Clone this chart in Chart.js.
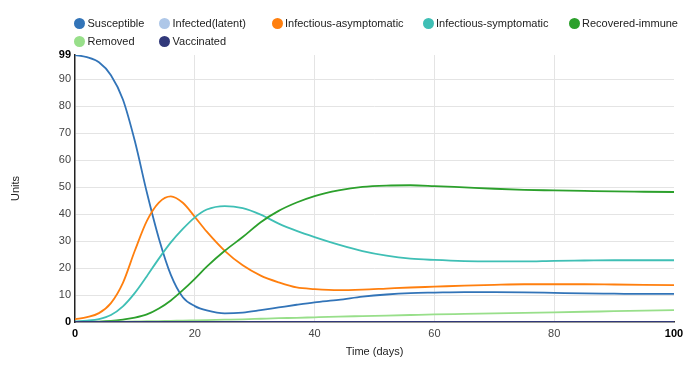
<!DOCTYPE html>
<html>
<head>
<meta charset="utf-8">
<script src="https://cdn.jsdelivr.net/npm/chart.js@4.4.1/dist/chart.umd.min.js"></script>
<style>
  body { margin: 0; background: #fff; }
  #wrap { position: relative; width: 700px; height: 372px; }
  #legend { position: absolute; left: 0; top: 0; width: 700px; height: 50px;
            font: 11px Arial, 'Liberation Sans', sans-serif; color: #222; }
  .item { position: absolute; white-space: nowrap; line-height: 14px; }
  .dot { position: absolute; left: -5.5px; top: 1.5px; width: 11px; height: 11px; border-radius: 50%; }
  .lbl { position: absolute; left: 8px; top: 0; }
</style>
</head>
<body>
<div id="wrap">
  <canvas id="chart" width="700" height="372"></canvas>
  <div id="legend"></div>
</div>
<script>
const days = [0, 2, 4, 6, 8, 10, 12, 14, 16, 18, 20, 22, 25, 28, 31, 34, 37, 40, 44, 48, 52, 56, 60, 65, 70, 75, 80, 85, 90, 95, 100];

const susceptible = [99, 98.2, 96.3, 91.5, 82.5, 67, 48, 31, 17.5, 9.2, 5.9, 4.3, 3.2, 3.5, 4.4, 5.4, 6.4, 7.3, 8.2, 9.4, 10.2, 10.7, 10.9, 11.1, 11.1, 11.0, 10.8, 10.6, 10.5, 10.4, 10.4];
const infectedLatent = [0, 0, 0, 0, 0, 0, 0, 0, 0, 0, 0, 0, 0, 0, 0, 0, 0, 0, 0, 0, 0, 0, 0, 0, 0, 0, 0, 0, 0, 0, 0];
const infectiousAsym = [1.0, 1.8, 3.3, 7.0, 14.5, 26.5, 37.5, 44.3, 46.6, 44.2, 39, 33.5, 26.4, 21, 17.2, 14.7, 12.8, 12.2, 11.8, 12.0, 12.4, 12.8, 13.1, 13.5, 13.8, 14.0, 14.0, 14.0, 13.9, 13.8, 13.7];
const infectiousSym = [0.2, 0.5, 1.1, 2.6, 5.8, 10.8, 17, 23.5, 29.5, 34.5, 38.8, 41.7, 43, 42.2, 39.8, 36.5, 33.8, 31.5, 28.7, 26.3, 24.6, 23.5, 23.0, 22.6, 22.5, 22.5, 22.7, 22.8, 22.9, 22.9, 22.9];
const recovered = [0, 0.05, 0.15, 0.4, 0.9, 1.6, 2.8, 5.0, 8.0, 11.8, 16, 20.5, 26.4, 31.5, 37, 41.2, 44.3, 46.7, 48.8, 50.1, 50.6, 50.7, 50.4, 49.9, 49.4, 49.0, 48.8, 48.6, 48.4, 48.3, 48.2];
const removed = [0, 0, 0.05, 0.1, 0.15, 0.2, 0.3, 0.35, 0.45, 0.5, 0.6, 0.7, 0.85, 1.0, 1.2, 1.4, 1.55, 1.75, 2.0, 2.2, 2.4, 2.6, 2.8, 3.0, 3.2, 3.4, 3.6, 3.8, 4.0, 4.2, 4.4];
const vaccinated = [0, 0, 0, 0, 0, 0, 0, 0, 0, 0, 0, 0, 0, 0, 0, 0, 0, 0, 0, 0, 0, 0, 0, 0, 0, 0, 0, 0, 0, 0, 0];

const seriesNames = ['Susceptible', 'Infected(latent)', 'Infectious-asymptomatic', 'Infectious-symptomatic', 'Recovered-immune', 'Removed', 'Vaccinated'];
const seriesValues = [susceptible, infectedLatent, infectiousAsym, infectiousSym, recovered, removed, vaccinated];
const seriesColors = ['#3274b8', '#aec7e8', '#ff7f0e', '#3fbfb5', '#2ca02c', '#98df8a', '#31397a'];

const yTicks = [0, 10, 20, 30, 40, 50, 60, 70, 80, 90, 99];
const xTicks = [0, 20, 40, 60, 80, 100];

const fontFamily = "Arial, 'Liberation Sans', sans-serif";

// legend dots placed like the original, two rows
const legendPos = [[79.5, 16], [164.5, 16], [277, 16], [428, 16], [574, 16], [79.5, 34], [164.5, 34]];
const legend = document.getElementById('legend');
seriesNames.forEach((name, i) => {
    const item = document.createElement('div');
    item.className = 'item';
    item.style.left = legendPos[i][0] + 'px';
    item.style.top = legendPos[i][1] + 'px';
    item.innerHTML = '<span class="dot" style="background:' + seriesColors[i] + '"></span><span class="lbl">' + name + '</span>';
    legend.appendChild(item);
});

const datasets = seriesNames.map((name, i) => ({
    label: name,
    data: days.map((d, j) => ({ x: d, y: seriesValues[i][j] })),
    borderColor: seriesColors[i],
    backgroundColor: seriesColors[i],
    borderWidth: 1.8,
    pointRadius: 0,
    cubicInterpolationMode: 'monotone',
    fill: false,
    order: seriesNames.length - i
}));

const isEnd = (v, lo, hi) => v === lo || v === hi;

new Chart(document.getElementById('chart').getContext('2d'), {
    type: 'line',
    data: { datasets: datasets },
    options: {
        responsive: false,
        animation: false,
        layout: { padding: { top: 55, right: 26, left: 0, bottom: 0 } },
        plugins: { legend: { display: false }, tooltip: { enabled: false } },
        scales: {
            x: {
                type: 'linear',
                min: 0,
                max: 100,
                afterBuildTicks: (scale) => { scale.ticks = xTicks.map(v => ({ value: v })); },
                afterFit: (scale) => { scale.height = 50; },
                grid: {
                    drawTicks: false,
                    color: (ctx) => ctx.tick && isEnd(ctx.tick.value, 0, 100) ? 'rgba(0,0,0,0)' : '#e4e4e4'
                },
                border: { color: '#333', width: 1.5 },
                ticks: {
                    padding: 5,
                    maxRotation: 0,
                    color: (ctx) => ctx.tick && isEnd(ctx.tick.value, 0, 100) ? '#000' : '#444',
                    font: (ctx) => ({ family: fontFamily, size: 11, weight: ctx.tick && isEnd(ctx.tick.value, 0, 100) ? 'bold' : 'normal' })
                },
                title: { display: true, text: 'Time (days)', color: '#222', padding: { top: 0, bottom: 13 }, font: { family: fontFamily, size: 11 } }
            },
            y: {
                min: 0,
                max: 99,
                afterBuildTicks: (scale) => { scale.ticks = yTicks.map(v => ({ value: v })); },
                afterFit: (scale) => { scale.width = 75; },
                grid: {
                    drawTicks: false,
                    color: (ctx) => ctx.tick && isEnd(ctx.tick.value, 0, 99) ? 'rgba(0,0,0,0)' : '#e4e4e4'
                },
                border: { color: '#222', width: 1.5 },
                ticks: {
                    padding: 4,
                    color: (ctx) => ctx.tick && isEnd(ctx.tick.value, 0, 99) ? '#000' : '#444',
                    font: (ctx) => ({ family: fontFamily, size: 11, weight: ctx.tick && isEnd(ctx.tick.value, 0, 99) ? 'bold' : 'normal' })
                },
                title: { display: true, text: 'Units', color: '#222', padding: { top: 9, bottom: 0 }, font: { family: fontFamily, size: 11 } }
            }
        }
    }
});
</script>
</body>
</html>
